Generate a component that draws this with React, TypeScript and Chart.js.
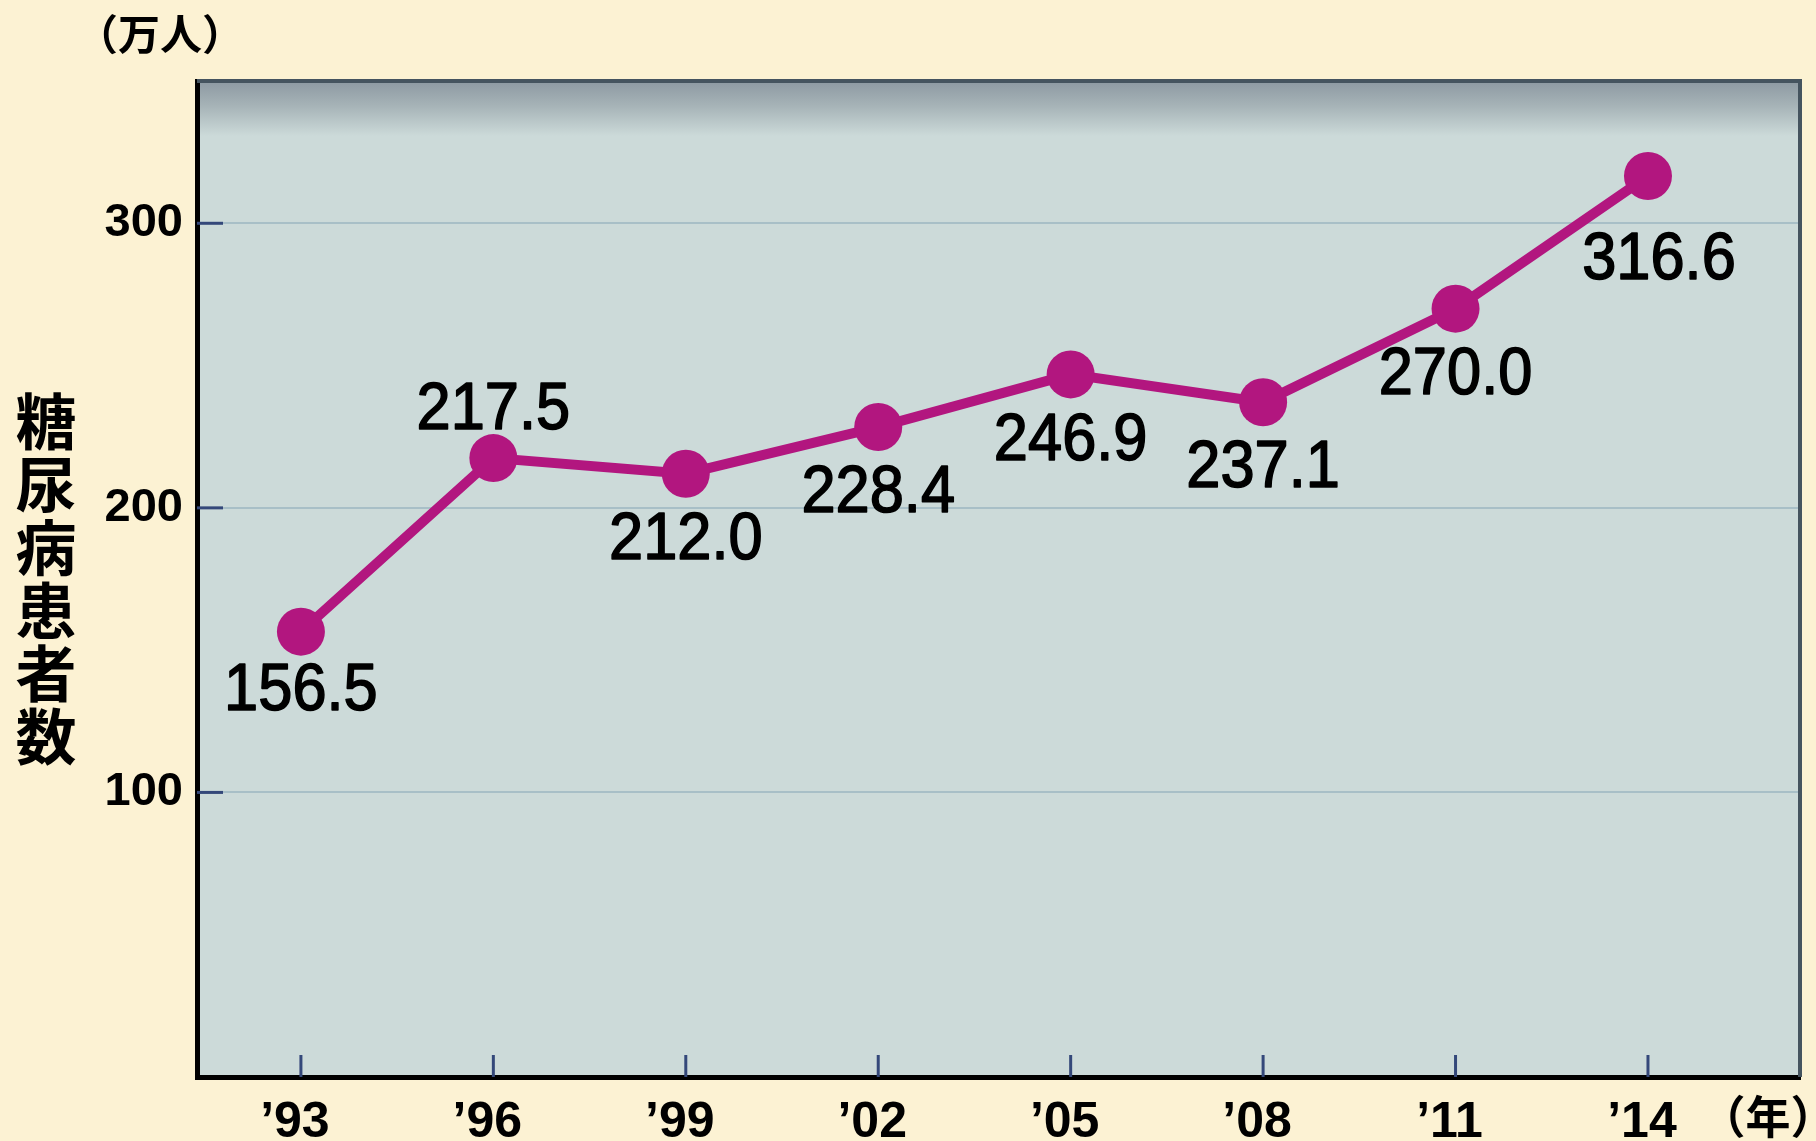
import React, { useEffect, useRef } from 'react';
import { Chart, registerables } from 'chart.js';

Chart.register(...registerables);

// ---- data ----
const yearLabels = ['’93', '’96', '’99', '’02', '’05', '’08', '’11', '’14'];
const patients = [156.5, 217.5, 212.0, 228.4, 246.9, 237.1, 270.0, 316.6];
const yTickValues = [100, 200, 300];
const labelPlacement = ['belowNear', 'above', 'below', 'below', 'below', 'below', 'below', 'belowRight'];
const unitLabel = '（万人）';
const yearUnit = '（年）';
const yTitle = '糖尿病患者数';

// ---- style ----
const NUM_FONT = "'Liberation Sans Narrow', 'Liberation Sans', Arial, sans-serif";
const LABEL_FONT = "'Liberation Sans', Arial, sans-serif";
const CJK_FONT = "'Noto Sans CJK JP', 'Noto Sans CJK SC', sans-serif";
const LINE_COLOR = '#b2167f';
const PAGE_BG = '#fcf2d3';
const PLOT_BG = '#ccdad9';

const placementOffset: Record<string, [number, number]> = {
  below: [0, 67],
  belowNear: [0, 60],
  above: [0, -47],
  belowRight: [11, 85],
};

const decorPlugin = {
  id: 'decor',
  beforeDraw(chart: any) {
    const { ctx, chartArea: a } = chart;
    ctx.save();
    ctx.fillStyle = PLOT_BG;
    ctx.fillRect(a.left, a.top, a.right - a.left, a.bottom - a.top);
    const gh = 55;
    const g = ctx.createLinearGradient(0, a.top, 0, a.top + gh);
    g.addColorStop(0, '#8d99a2');
    g.addColorStop(0.45, '#a6b3b7');
    g.addColorStop(1, PLOT_BG);
    ctx.fillStyle = g;
    ctx.fillRect(a.left, a.top, a.right - a.left, gh);
    ctx.restore();
  },
  beforeDatasetsDraw(chart: any) {
    const { ctx, chartArea: a, scales } = chart;
    const x = scales.x;
    const y = scales.y;
    ctx.save();
    // top & right frame
    ctx.strokeStyle = '#45545f';
    ctx.lineWidth = 4;
    ctx.beginPath();
    ctx.moveTo(a.left, a.top);
    ctx.lineTo(a.right, a.top);
    ctx.lineTo(a.right, a.bottom);
    ctx.stroke();
    // inner tick marks
    ctx.strokeStyle = '#34487a';
    ctx.lineWidth = 3;
    for (const v of yTickValues) {
      const py = y.getPixelForValue(v);
      ctx.beginPath();
      ctx.moveTo(a.left, py);
      ctx.lineTo(a.left + 26, py);
      ctx.stroke();
    }
    yearLabels.forEach((_, i) => {
      const px = x.getPixelForValue(i);
      ctx.beginPath();
      ctx.moveTo(px, a.bottom);
      ctx.lineTo(px, a.bottom - 22);
      ctx.stroke();
    });
    ctx.restore();
  },
  afterDatasetsDraw(chart: any) {
    const { ctx } = chart;
    const meta = chart.getDatasetMeta(0);
    meta.data.forEach((pt: any, i: number) => {
      const [dx, dy] = placementOffset[labelPlacement[i]] || placementOffset.below;
      ctx.save();
      ctx.translate(pt.x + dx, pt.y + dy);
      ctx.scale(0.93, 1);
      ctx.fillStyle = '#000';
      ctx.strokeStyle = '#000';
      ctx.lineWidth = 1.6;
      ctx.lineJoin = 'round';
      ctx.font = `normal 66px ${LABEL_FONT}`;
      ctx.textAlign = 'center';
      ctx.textBaseline = 'middle';
      const t = patients[i].toFixed(1);
      ctx.fillText(t, 0, 0);
      ctx.strokeText(t, 0, 0);
      ctx.restore();
    });
  },
  afterDraw(chart: any) {
    const { ctx } = chart;
    ctx.save();
    ctx.fillStyle = '#000';
    ctx.textAlign = 'center';
    ctx.textBaseline = 'middle';
    ctx.font = `bold 42px ${CJK_FONT}`;
    ctx.fillText(unitLabel, 160, 34);
    ctx.font = `bold 45px ${CJK_FONT}`;
    ctx.fillText(yearUnit, 1768, 1117);
    ctx.font = `bold 61px ${CJK_FONT}`;
    const chars = Array.from(yTitle);
    chars.forEach((c, i) => {
      ctx.fillText(c, 46, 422 + i * 63);
    });
    ctx.restore();
  },
};

export default function App() {
  const ref = useRef<HTMLCanvasElement | null>(null);
  useEffect(() => {
    if (!ref.current) return;
    const chart = new Chart(ref.current, {
      type: 'line',
      data: {
        datasets: [
          {
            data: patients.map((v, i) => ({ x: i, y: v })),
            borderColor: LINE_COLOR,
            backgroundColor: LINE_COLOR,
            borderWidth: 10,
            pointRadius: 24,
            pointBorderWidth: 0,
            pointBackgroundColor: LINE_COLOR,
            tension: 0,
          },
        ],
      },
      options: {
        responsive: false,
        animation: false,
        devicePixelRatio: 1,
        layout: { autoPadding: false, padding: { top: 81, right: 16, left: 0, bottom: 0 } },
        plugins: { legend: { display: false }, tooltip: { enabled: false }, title: { display: false } },
        scales: {
          x: {
            type: 'linear',
            min: -0.54,
            max: 7.79,
            afterFit: (s: any) => { s.height = 64; },
            afterBuildTicks: (s: any) => { s.ticks = yearLabels.map((_, i) => ({ value: i })); },
            grid: { display: false, drawTicks: false },
            border: { display: true, color: '#000', width: 5 },
            ticks: {
              padding: 16,
              labelOffset: -6,
              color: '#000',
              font: { family: NUM_FONT, size: 50, weight: 'bold' },
              callback: (v: any) => yearLabels[Number(v)] ?? '',
              maxRotation: 0,
              autoSkip: false,
            },
          },
          y: {
            type: 'linear',
            min: 0,
            max: 350,
            afterFit: (s: any) => { s.width = 197; },
            afterBuildTicks: (s: any) => { s.ticks = yTickValues.map((v) => ({ value: v })); },
            grid: { color: '#a8bfc7', lineWidth: 2, drawTicks: false },
            border: { display: true, color: '#000', width: 5 },
            ticks: {
              padding: 14,
              color: '#000',
              font: { family: NUM_FONT, size: 47, weight: 'bold' },
              callback: (v: any) => String(v),
            },
          },
        },
      },
      plugins: [decorPlugin],
    } as any);
    return () => chart.destroy();
  }, []);
  return (
    <div style={{ position: 'fixed', left: 0, top: 0, width: 1816, height: 1141, background: PAGE_BG }}>
      <canvas ref={ref} width={1816} height={1141} style={{ width: 1816, height: 1141, display: 'block' }} />
    </div>
  );
}
